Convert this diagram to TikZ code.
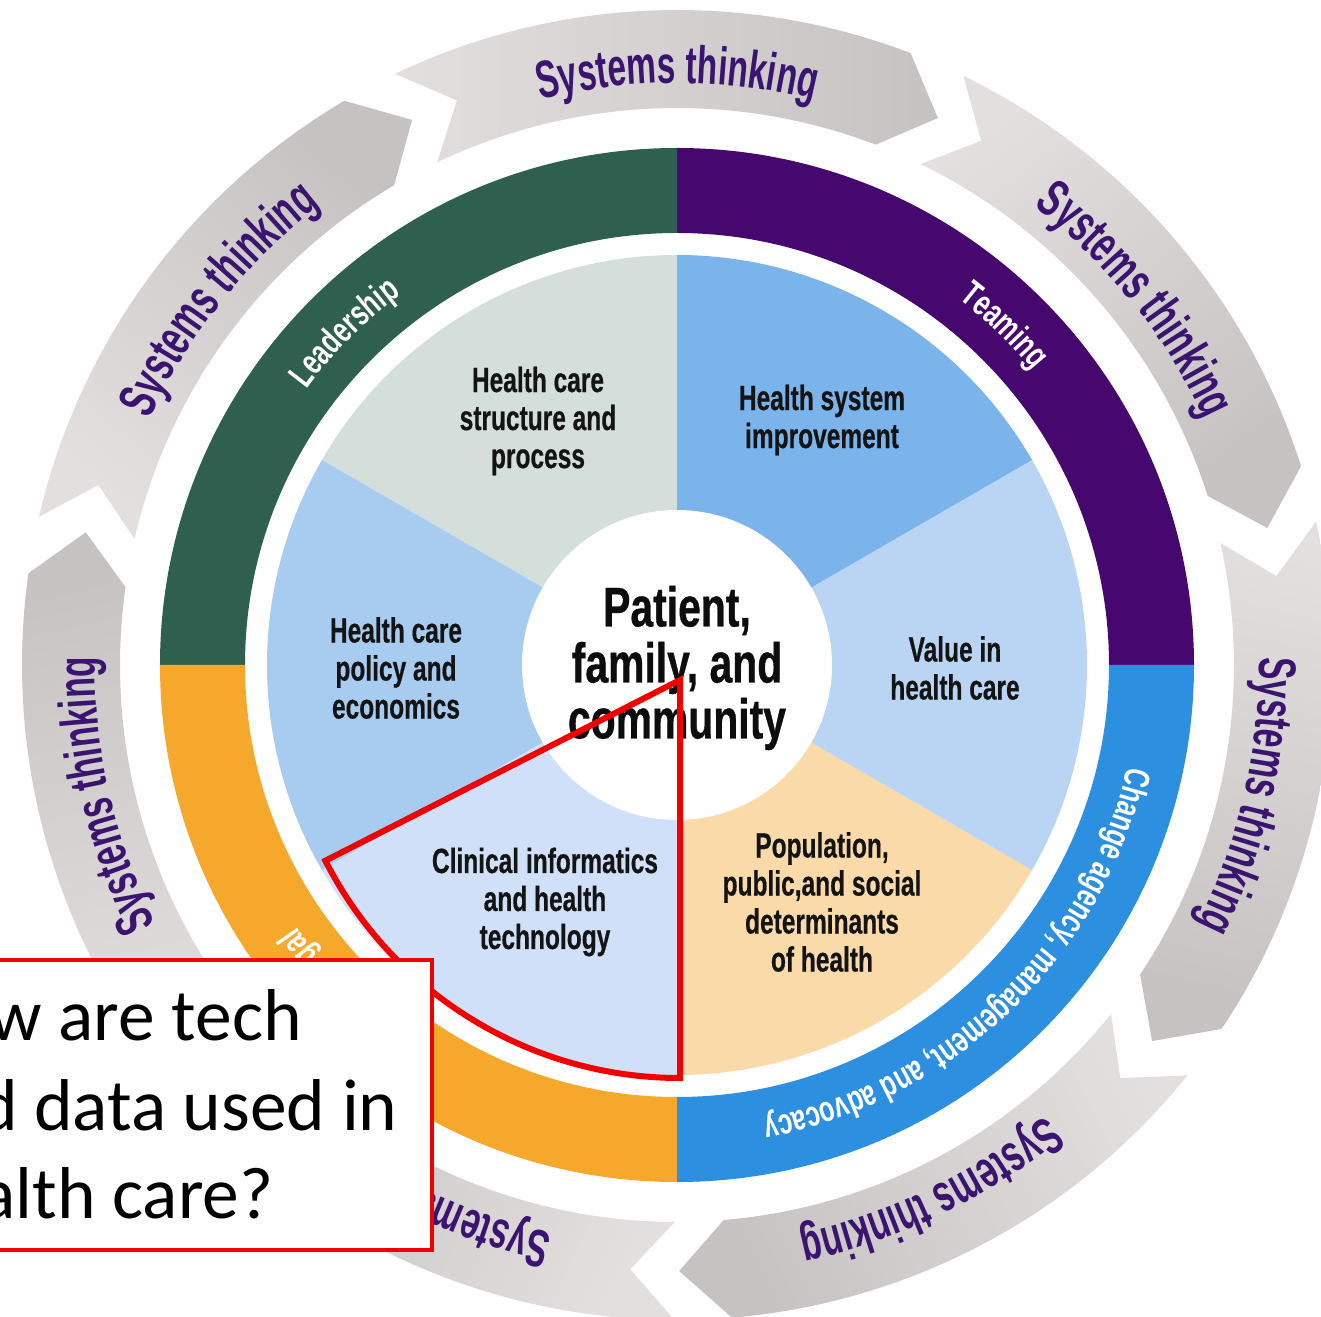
\documentclass[tikz,border=0pt]{standalone}
\usepackage{fontspec}
\setmainfont{Liberation Sans}
\newfontfamily\arrowf[FakeStretch=0.63]{Liberation Sans}
\newfontfamily\segf[FakeStretch=0.70,FakeBold=0.5]{Liberation Sans}
\newfontfamily\ringf[FakeStretch=0.70]{Liberation Sans}
\newfontfamily\ctrf[FakeStretch=0.73,FakeBold=0.6]{Liberation Sans}
\newfontfamily\boxf{Carlito}
\usetikzlibrary{decorations.text}
\definecolor{arrowlight}{HTML}{E2DFDE}
\definecolor{arrowdark}{HTML}{C6C2C2}
\definecolor{stpurple}{HTML}{3A1470}
\definecolor{ringgreen}{HTML}{2F5F4E}
\definecolor{ringpurple}{HTML}{46086F}
\definecolor{ringblue}{HTML}{2C8FE0}
\definecolor{ringorange}{HTML}{F6A82C}
\definecolor{segstruct}{HTML}{D4DEDB}
\definecolor{segimprove}{HTML}{7AB4EB}
\definecolor{segvalue}{HTML}{B9D5F3}
\definecolor{segpop}{HTML}{FBDAA9}
\definecolor{segclin}{HTML}{CFE0F8}
\definecolor{segpolicy}{HTML}{A8CCF0}
\definecolor{callred}{HTML}{F20000}
\tikzset{
  segtext/.style={font=\segf\bfseries\fontsize{17.5}{19}\selectfont, align=center, inner sep=0pt, text=black!92},
  ctrtext/.style={font=\ctrf\bfseries\fontsize{28}{28}\selectfont, align=center, inner sep=0pt, text=black!95},
  boxtext/.style={font=\boxf\fontsize{36.75}{44}\selectfont, inner sep=0pt, text=black, anchor=base west},
  redline/.style={draw=callred, line width=3pt},
  boxline/.style={draw=callred, fill=white, line width=1.75pt},
}
\begin{document}
\begin{tikzpicture}[x=0.5pt,y=0.5pt]
\useasboundingbox (-677,-651) rectangle (644,665);
\clip (-677,-651) rectangle (644,665);
\fill[white] (-677,-651) rectangle (644,665);

% Systems thinking arrows
\foreach \k in {0,...,6}{
  \pgfmathsetmacro\T{115.5-51.43*\k}
  \pgfmathsetmacro\H{\T-46.4}
  \pgfmathsetmacro\P{\H-4.6}
  \pgfmathsetmacro\N{\T-4.2}
  \pgfmathsetmacro\C{90-51.43*\k}
  \shade[top color=arrowlight, bottom color=arrowdark, shading angle=\C]
     (\T:655) arc[start angle=\T, end angle=\H, radius=655]
     -- (\P:606) -- (\H:557) arc[start angle=\H, end angle=\T, radius=557]
     -- (\N:606) -- cycle;
}
\foreach \k in {0,1,2,3,5,6}{
  \pgfmathsetmacro\C{90-51.43*\k}
  \pgfmathsetmacro\Cs{\C+35}
  \pgfmathsetmacro\Ce{\C-35}
  \path[decorate, decoration={text along path, text align=center, text color=stpurple,
     text={|\arrowf\bfseries\fontsize{26.5}{30}\selectfont|Systems thinking}}]
     (\Cs:582) arc[start angle=\Cs, end angle=\Ce, radius=582];
}
% bottom-left arrow: only the first word shows beside the callout box
\path[decorate, decoration={text along path, text align=left, text color=stpurple,
   text={|\arrowf\bfseries\fontsize{26.5}{30}\selectfont|Systems}}]
   (-102.4:582) arc[start angle=-102.4, end angle=-150, radius=582];

% cross-cutting ring
\fill[ringpurple] (0:517) arc[start angle=0, end angle=90, radius=517] -- (90:432) arc[start angle=90, end angle=0, radius=432] -- cycle;
\fill[ringgreen] (90:517) arc[start angle=90, end angle=180, radius=517] -- (180:432) arc[start angle=180, end angle=90, radius=432] -- cycle;
\fill[ringorange] (180:517) arc[start angle=180, end angle=270, radius=517] -- (270:432) arc[start angle=270, end angle=180, radius=432] -- cycle;
\fill[ringblue] (-90:517) arc[start angle=-90, end angle=0, radius=517] -- (0:432) arc[start angle=0, end angle=-90, radius=432] -- cycle;

\path[decorate, decoration={text along path, text align=center, text color=white,
   text={|\ringf\bfseries\fontsize{18}{20}\selectfont|Leadership}}]
   (175:462) arc[start angle=175, end angle=95, radius=462];
\path[decorate, decoration={text along path, text align=center, text color=white,
   text={|\ringf\bfseries\fontsize{18}{20}\selectfont|Teaming}}]
   (86:462) arc[start angle=86, end angle=6, radius=462];
\path[decorate, decoration={text along path, text align=center, text color=white,
   text={|\ringf\bfseries\fontsize{18}{20}\selectfont|Change agency, management, and advocacy}}]
   (-1:462) arc[start angle=-1, end angle=-91, radius=462];
% orange quadrant: only the end of its label shows above the callout box
\path[decorate, decoration={text along path, text align=right, text color=white,
   text={|\ringf\bfseries\fontsize{18}{20}\selectfont|legal}}]
   (235:462) arc[start angle=235, end angle=214.5, radius=462];

% core domains
\fill[segstruct] (0,0) -- (90:410) arc[start angle=90, end angle=150, radius=410] -- cycle;
\fill[segpolicy] (0,0) -- (150:410) arc[start angle=150, end angle=210, radius=410] -- cycle;
\fill[segclin] (0,0) -- (210:410) arc[start angle=210, end angle=270, radius=410] -- cycle;
\fill[segpop] (0,0) -- (270:410) arc[start angle=270, end angle=330, radius=410] -- cycle;
\fill[segvalue] (0,0) -- (-30:410) arc[start angle=-30, end angle=30, radius=410] -- cycle;
\fill[segimprove] (0,0) -- (30:410) arc[start angle=30, end angle=90, radius=410] -- cycle;
\fill[white] (0,0) circle[radius=155];

\node[segtext] (tStruct) at (-139,244) {Health care\\structure and\\process};
\node[segtext] (tImprove) at (145,245) {Health system\\improvement};
\node[segtext] (tValue) at (278,-3) {Value in\\health care};
\node[segtext] (tPop) at (145,-237) {Population,\\public,and social\\determinants\\of health};
\node[segtext] (tClin) at (-132,-237) {Clinical informatics\\and health\\technology};
\node[segtext] (tPolicy) at (-281,-3) {Health care\\policy and\\economics};
\node[ctrtext] (tCenter) at (0,-3) {Patient,\\family, and\\community};

% red highlight sector
\coordinate (apex) at (3,-15);
\coordinate (rbottom) at (3,-413);
\draw[redline] (apex) -- (rbottom) arc[start angle=-90, end angle=-153, radius=398] -- cycle;

% callout box
\draw[boxline] (-697,-295) rectangle (-245,-585);
\node[boxtext] (q1) at (-772,-375) {How are tech};
\node[boxtext] (q2) at (-772,-465) {and data used in};
\node[boxtext] (q3) at (-772,-553) {health care?};
\end{tikzpicture}
\end{document}
